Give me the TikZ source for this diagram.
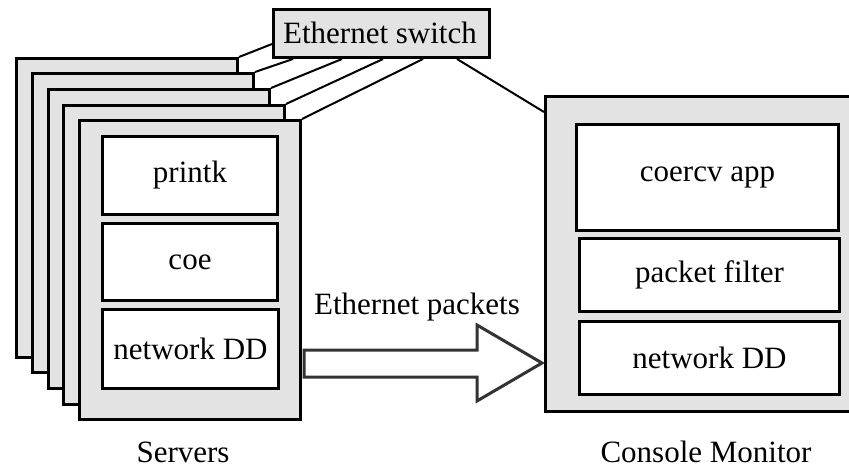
\documentclass[tikz,border=0pt]{standalone}
\usepackage{fontspec}
\setmainfont{Liberation Serif}
\usetikzlibrary{calc}
\definecolor{boxgray}{HTML}{E3E3E3}
\definecolor{arrowgray}{HTML}{333333}
\tikzset{
  outerbox/.style={draw, line width=3pt, fill=boxgray, anchor=north west, inner sep=0pt,
    minimum width=221pt, minimum height=299pt},
  innerbox/.style={draw, line width=3pt, fill=white, anchor=north west, inner sep=0pt},
  switchbox/.style={draw, line width=3pt, fill=boxgray, anchor=north west, inner sep=0pt,
    minimum width=216pt, minimum height=48pt},
  link/.style={line width=2pt},
  lbl/.style={font=\fontsize{31}{36}\selectfont},
}
\begin{document}
\begin{tikzpicture}[x=1pt,y=-1pt,lbl]
\useasboundingbox (0,0) rectangle (849,469);
% Ethernet switch
\node[switchbox] (sw) at (272,8) {};
\node[anchor=base] (swt) at (380,43) {Ethernet switch};
% server stack
\node[outerbox] (s1) at (15,57) {};
\node[outerbox] (s2) at (31,72) {};
\node[outerbox] (s3) at (47,88) {};
\node[outerbox] (s4) at (62,104) {};
\node[outerbox] (s5) at (78,119) {};
\node[innerbox, minimum width=175pt, minimum height=78pt] (printk) at (101,135) {};
\node at (printk.center) {printk};
\node[innerbox, minimum width=175pt, minimum height=77pt] (coe) at (101,222) {};
\node at (coe.center) {coe};
\node[innerbox, minimum width=176pt, minimum height=79pt] (snd) at (101,308) {};
\node at (snd.center) {network DD};
% links to switch
\draw[link] (s1.north east) -- ($(sw.south west)+(0,-15)$);
\draw[link] (s2.north east) -- ($(sw.south west)+(21,0)$);
\draw[link] (s3.north east) -- ($(sw.south west)+(70,0)$);
\draw[link] (s4.north east) -- ($(sw.south west)+(111,0)$);
\draw[link] (s5.north east) -- ($(sw.south west)+(151,0)$);
% console monitor
\coordinate (mtl) at (544,95);
\draw[link] ($(sw.south west)+(185,0)$) -- ($(mtl)+(0,17)$);
\node[outerbox, minimum width=320pt, minimum height=315pt] (mon) at (mtl) {};
\node[innerbox, minimum width=262pt, minimum height=106pt] (app) at (575,123) {};
\node at (app.center) {coercv app};
\node[innerbox, minimum width=260pt, minimum height=73pt] (pf) at (578,237) {};
\node at (pf.center) {packet filter};
\node[innerbox, minimum width=260pt, minimum height=73pt] (mnd) at (578,320) {};
\node at (mnd.center) {network DD};
% block arrow
\draw[line width=3pt, draw=arrowgray, fill=white, line join=miter]
  (304,350) -- (477,350) -- (477,325) -- (542,363) -- (477,401) -- (477,377) -- (304,377) -- cycle;
\node[anchor=base] (pk) at (417,314) {Ethernet packets};
% labels
\node[anchor=base] (srv) at (183,462) {Servers};
\node[anchor=base] (cm) at (706,462) {Console Monitor};
\end{tikzpicture}
\end{document}
